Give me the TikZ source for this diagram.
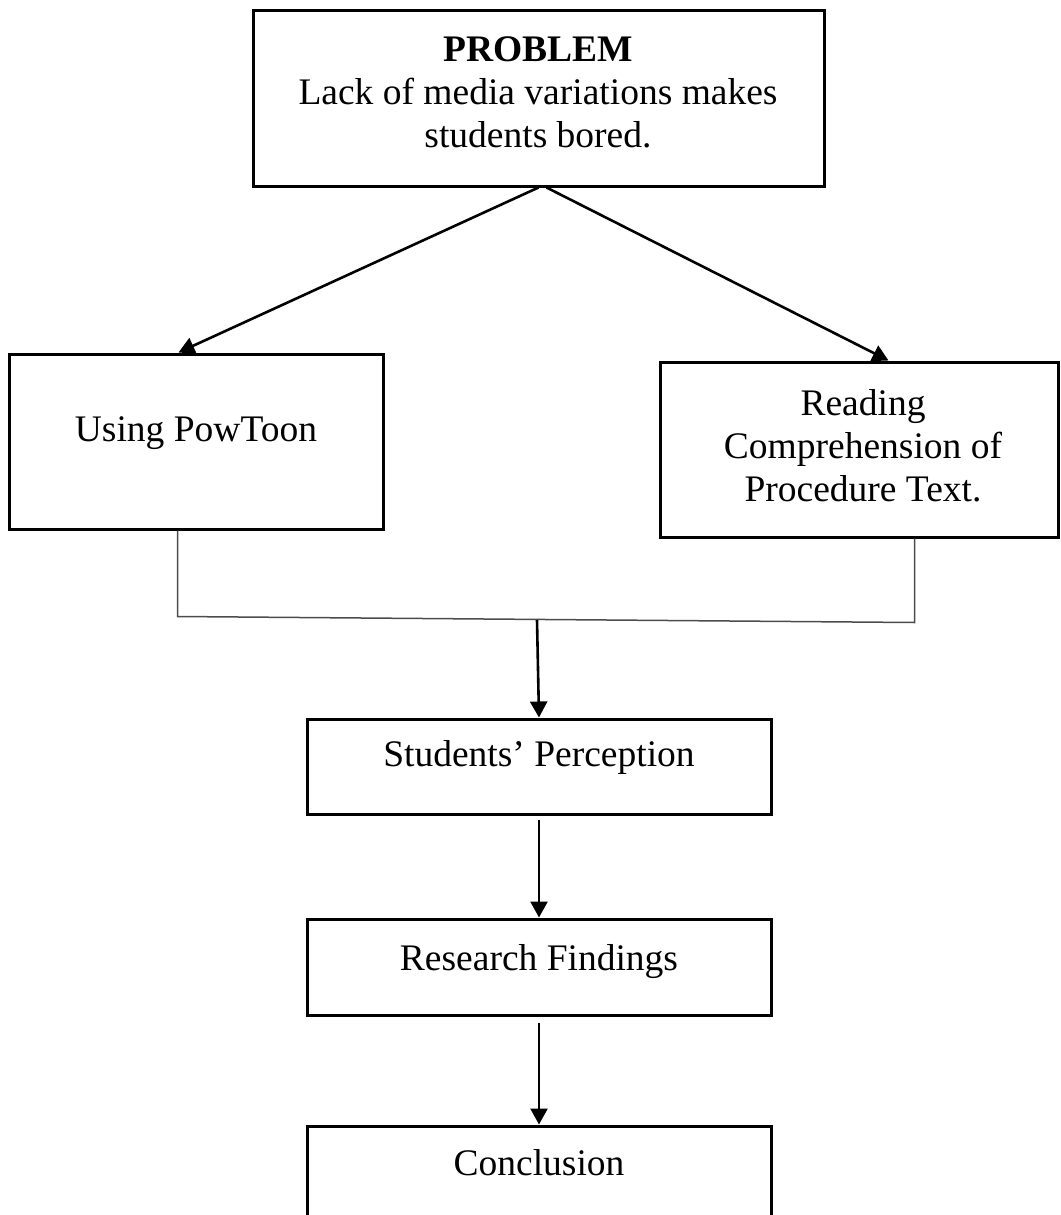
\documentclass[tikz,border=0pt]{standalone}
\usepackage{fontspec}
\setmainfont{Liberation Serif}
\usetikzlibrary{arrows.meta,calc}
\begin{document}
\begin{tikzpicture}[x=1pt,y=-1pt,
  box/.style={draw, line width=3pt, rectangle, inner sep=0pt},
  txt/.style={font=\fontsize{37.5}{43}\selectfont, align=center, inner sep=0pt},
  arr/.style={line width=2.6pt, -{Triangle[length=16pt,width=17pt]}},
  link/.style={line width=1.5pt, draw=black!70}]
\useasboundingbox (0,0) rectangle (1060,1215);
\clip (0,0) rectangle (1060,1215);
% boxes
\node[box, minimum width=571pt, minimum height=175pt] (prob) at (538.5,98.5) {};
\node[box, minimum width=374pt, minimum height=175pt] (use) at (196,441.5) {};
\node[box, minimum width=398pt, minimum height=175pt] (read) at (859,449.5) {};
\node[box, minimum width=464pt, minimum height=95pt] (stud) at (539,766.5) {};
\node[box, minimum width=464pt, minimum height=96pt] (res) at (539,967) {};
\node[box, minimum width=464pt, minimum height=114pt] (con) at (539,1183) {};
% texts
\node[txt] (probtxt) at (538,92) {\textbf{PROBLEM}\\Lack of media variations makes\\students bored.};
\node[txt] (usetxt) at (196,433) {Using PowToon};
\node[txt] (readtxt) at (863,446) {Reading\\Comprehension of\\Procedure Text.};
\node[txt] (studtxt) at (539,757) {Students’ Perception};
\node[txt] (restxt) at (539,962) {Research Findings};
\node[txt] (contxt) at (539,1163) {Conclusion};
% arrows from problem
\draw[arr] (prob.south) -- ($(use.north west)+(171,0)$);
\draw[arr] ($(prob.south)+(8,0)$) -- ($(read.north west)+(230,0)$);
% joining connector
\draw[link] ($(use.south west)+(170,0)$) -- ++(0,86) -- ($(read.south west)+(256,84)$) -- ($(read.south west)+(256,0)$);
\coordinate (j) at (537,620);
\draw[arr] (j) -- (stud.north);
\draw[arr] ($(stud.south)+(0,4)$) -- (res.north);
\draw[arr] ($(res.south)+(0,6)$) -- (con.north);
\end{tikzpicture}
\end{document}
